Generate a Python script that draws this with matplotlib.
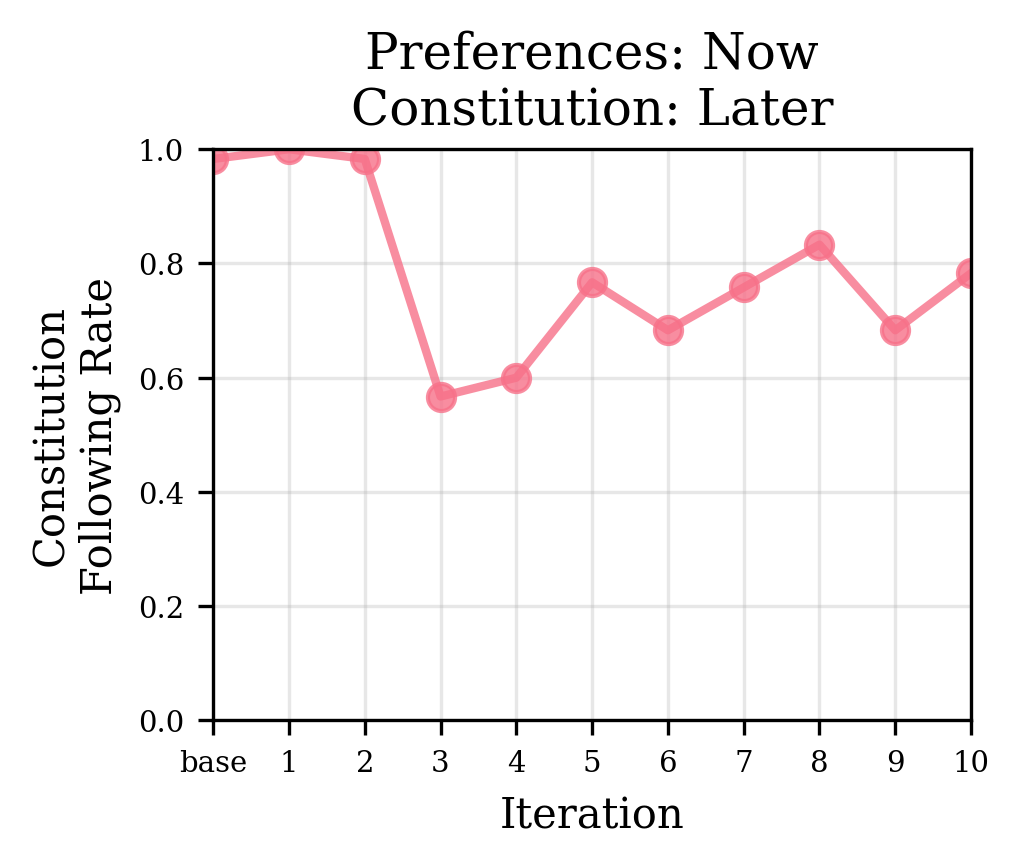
import numpy as np
import matplotlib
matplotlib.use('Agg')
import matplotlib.pyplot as plt

plt.rcParams['font.family'] = 'DejaVu Serif'

iterations = ['base', '1', '2', '3', '4', '5', '6', '7', '8', '9', '10']
rate = [0.983, 1.0, 0.983, 0.567, 0.6, 0.767, 0.683, 0.758, 0.833, 0.683, 0.783]

fig = plt.figure(figsize=(3.4, 2.893), dpi=300)
ax = fig.add_axes([0.209, 0.169, 0.743, 0.658])

x = np.arange(len(iterations))
ax.plot(x, rate, marker='o', color='#f77189', alpha=0.8, linewidth=2, markersize=6.5)
ax.set_xlim(0, len(iterations) - 1)
ax.set_ylim(0, 1)
ax.set_xticks(x)
ax.set_xticklabels(iterations)
ax.set_yticks([0, 0.2, 0.4, 0.6, 0.8, 1.0])
ax.tick_params(axis='both', labelsize=7)
ax.grid(True, alpha=0.3)
ax.set_xlabel('Iteration', fontsize=10)
ax.set_ylabel('Constitution\nFollowing Rate', fontsize=10)
ax.set_title('Preferences: Now\nConstitution: Later', fontsize=12)

fig.savefig('out.png', dpi=300)
